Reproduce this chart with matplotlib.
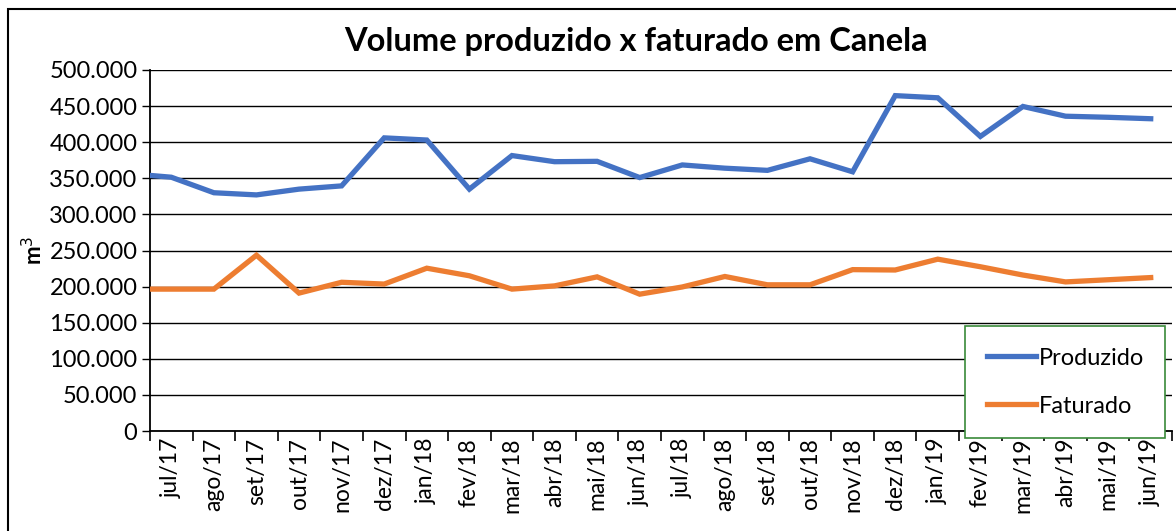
import matplotlib
matplotlib.use("Agg")
import matplotlib.pyplot as plt
from matplotlib.patches import Rectangle
from matplotlib.ticker import FuncFormatter, MultipleLocator
import numpy as np

plt.rcParams['font.family'] = ['Lato', 'DejaVu Sans']

meses = ['jul/17', 'ago/17', 'set/17', 'out/17', 'nov/17', 'dez/17',
         'jan/18', 'fev/18', 'mar/18', 'abr/18', 'mai/18', 'jun/18',
         'jul/18', 'ago/18', 'set/18', 'out/18', 'nov/18', 'dez/18',
         'jan/19', 'fev/19', 'mar/19', 'abr/19', 'mai/19', 'jun/19']

# valor na origem do eixo (a linha do Excel começa junto ao eixo)
produzido_inicio = 354000
faturado_inicio = 196500

produzido = [351500, 330000, 327000, 335000, 339500, 406000,
             403000, 335000, 381500, 373000, 373500, 351000,
             368500, 364000, 361000, 377000, 359000, 464500,
             461500, 408000, 449500, 436000, 434500, 432500]

faturado = [196500, 196500, 243500, 191000, 206000, 203500,
            225500, 215000, 196500, 201000, 213500, 189500,
            199500, 214000, 202500, 202500, 223500, 223000,
            238000, 227500, 216000, 206500, 209500, 212500]

azul = '#4472C4'
laranja = '#ED7D31'

fig = plt.figure(figsize=(11.76, 5.31), dpi=100)
ax = fig.add_axes([150 / 1176, 1 - 431 / 531, 1022 / 1176, 361 / 531])

x = np.arange(len(meses)) + 0.5
ax.plot(np.r_[0, x], [produzido_inicio] + produzido, color=azul, lw=3.8,
        solid_joinstyle='miter', label='Produzido', zorder=3)
ax.plot(np.r_[0, x], [faturado_inicio] + faturado, color=laranja, lw=3.8,
        solid_joinstyle='miter', label='Faturado', zorder=3)

ax.set_xlim(0, len(meses))
ax.set_ylim(0, 500000)
ax.yaxis.set_major_locator(MultipleLocator(50000))
ax.yaxis.set_major_formatter(FuncFormatter(lambda v, p: f'{int(v):,}'.replace(',', '.')))
ax.grid(axis='y', color='black', lw=1.0, zorder=1)

ax.set_xticks(np.arange(len(meses) + 1))
ax.set_xticklabels([])
ax.set_xticks(x, minor=True)
ax.set_xticklabels(meses, minor=True, rotation=90, fontsize=16.5)
ax.tick_params(axis='x', which='major', direction='out', length=7, width=1.2, color='black')
ax.tick_params(axis='x', which='minor', length=0, pad=5)
ax.tick_params(axis='y', direction='out', length=6, width=1.0, labelsize=17, pad=3)

for s in ['top', 'right']:
    ax.spines[s].set_visible(False)
ax.spines['left'].set_linewidth(1.3)
ax.spines['bottom'].set_linewidth(1.3)

ax.set_ylabel('m$^3$', fontsize=16, fontweight='bold', labelpad=2)

fig.text(636 / 1176, 1 - 41 / 531, 'Volume produzido x faturado em Canela',
         ha='center', va='center', fontsize=23.5, fontweight='bold')

leg = ax.legend(loc='lower right', bbox_to_anchor=(1165 / 1176, 1 - 438 / 531),
                bbox_transform=fig.transFigure, fontsize=17, frameon=True,
                fancybox=False, handlelength=2.1, handletextpad=0.1,
                labelspacing=1.15, borderpad=0.9, borderaxespad=0)
leg.get_frame().set_edgecolor('#3a8a3a')
leg.get_frame().set_linewidth(1.2)
leg.get_frame().set_alpha(1)

# moldura do gráfico
fig.add_artist(Rectangle((8 / 1176, -0.1), 1.2, 1.1 - 9 / 531, transform=fig.transFigure,
                         fill=False, ec='black', lw=1.5))

fig.savefig('out.png', dpi=100, facecolor='white')
